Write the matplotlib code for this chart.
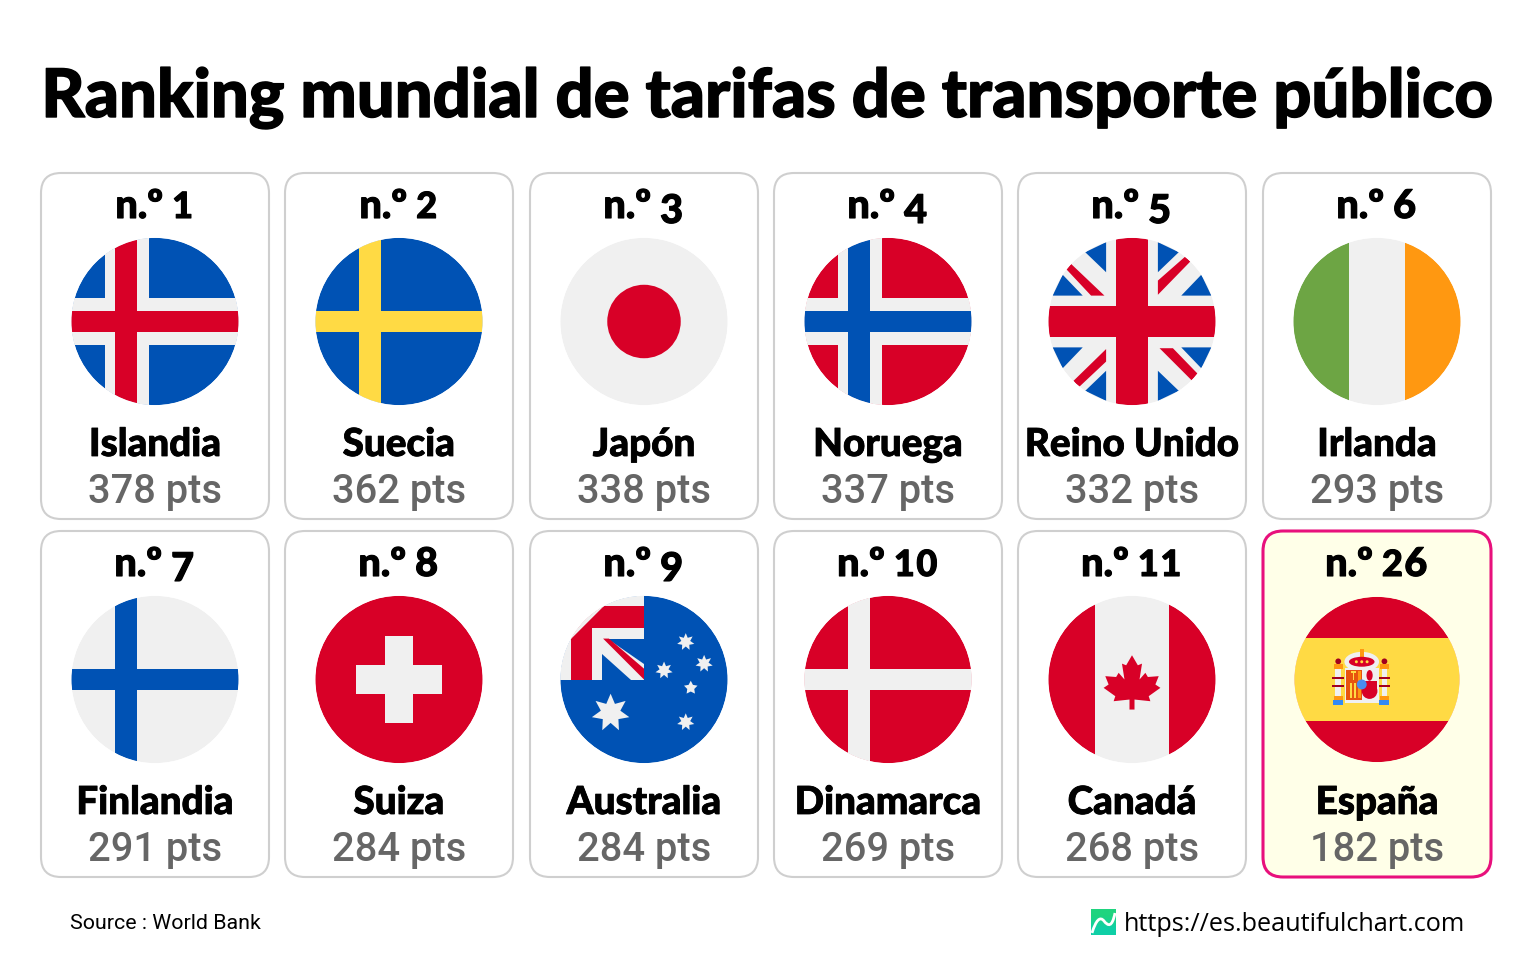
#!/usr/bin/env python3
"""Ranking mundial de tarifas de transporte publico, drawn as a grid of flag cards."""

import matplotlib

matplotlib.use("Agg")

import matplotlib.patheffects as pe
import matplotlib.pyplot as plt
import numpy as np
from matplotlib.colors import LinearSegmentedColormap
from matplotlib.patches import Circle, Ellipse, FancyBboxPatch, PathPatch, Polygon, Rectangle
from matplotlib.path import Path

RANKS = ["1", "2", "3", "4", "5", "6", "7", "8", "9", "10", "11", "26"]
COUNTRIES = ["Islandia", "Suecia", "Japón", "Noruega", "Reino Unido", "Irlanda",
             "Finlandia", "Suiza", "Australia", "Dinamarca", "Canadá", "España"]
POINTS = [378, 362, 338, 337, 332, 293, 291, 284, 284, 269, 268, 182]

TITLE = "Ranking mundial de tarifas de transporte público"
SOURCE = "Source : World Bank"
URL = "https://es.beautifulchart.com"

RED = "#d80027"
BLUE = "#0052b4"
WHITE = "#f0f0f0"
YELLOW = "#ffda44"
ORANGE = "#ff9811"
DARK_RED = "#a2001d"

CARD_LEFT = [41, 285, 530, 774, 1018, 1263]
CARD_TOP = [173, 531]
CARD_W = 228
CARD_H = 346
FLAG_R = 83.5
HEAD_FONT = "Lato"
PTS_FONT = "Roboto"

# the rank numerals in the reference are old-style: some sit low, some are small
LOW_DIGITS = "34579"
SMALL_DIGITS = "012"


class Flag:
    """Draws shapes in circle units (-1..1, y down), clipped to the flag disc."""

    def __init__(self, ax, cx, cy, r, card_color):
        self.ax, self.cx, self.cy, self.r = ax, cx, cy, r
        self.card_color = card_color
        self.disc = Circle((cx, cy), r + 0.3, transform=ax.transData)

    def add(self, patch):
        self.ax.add_patch(patch)
        patch.set_clip_path(self.disc)

    def rect(self, u0, u1, v0, v1, color):
        self.add(Rectangle((self.cx + self.r * u0, self.cy + self.r * v0),
                           self.r * (u1 - u0), self.r * (v1 - v0),
                           fc=color, ec="none"))

    def poly(self, pts, color):
        xy = [(self.cx + self.r * u, self.cy + self.r * v) for u, v in pts]
        self.add(Polygon(xy, closed=True, fc=color, ec="none"))

    def dot(self, u, v, rad, color):
        self.add(Circle((self.cx + self.r * u, self.cy + self.r * v), self.r * rad,
                        fc=color, ec="none"))

    def oval(self, u, v, w, h, color):
        self.add(Ellipse((self.cx + self.r * u, self.cy + self.r * v),
                         self.r * w, self.r * h, fc=color, ec="none"))

    def star(self, u, v, rad, color, points=7):
        ang = np.arange(points * 2) * np.pi / points - np.pi / 2
        radii = np.where(np.arange(points * 2) % 2 == 0, rad, rad * 0.52)
        self.poly(list(zip(u + radii * np.cos(ang), v + radii * np.sin(ang))), color)

    def base(self, color):
        self.rect(-1.1, 1.1, -1.1, 1.1, color)

    def smooth_edge(self):
        # clipping is not antialiased, so cover the rim with a thin ring
        self.ax.add_patch(Circle((self.cx, self.cy), self.r + 1.2, fc="none",
                                 ec=self.card_color, lw=1.6))


def nordic(f, bg, outer, inner):
    f.base(bg)
    if outer:
        f.rect(-0.6, -0.07, -1.1, 1.1, outer)
        f.rect(-1.1, 1.1, -0.28, 0.28, outer)
    f.rect(-0.48, -0.21, -1.1, 1.1, inner)
    f.rect(-1.1, 1.1, -0.13, 0.13, inner)


def draw_uk(f):
    f.base(WHITE)
    for sx in (-1, 1):
        for sy in (-1, 1):
            f.poly([(sx * 0.56, sy * 0.83), (sx * 0.31, sy * 0.95), (sx * 0.31, sy * 0.59)], BLUE)
            f.poly([(sx * 0.95, sy * 0.31), (sx * 0.59, sy * 0.31), (sx * 0.83, sy * 0.56)], BLUE)
    f.poly([(-0.79, -0.63), (-0.73, -0.69), (-0.33, -0.31), (-0.49, -0.31)], RED)
    f.poly([(0.31, -0.32), (0.31, -0.49), (0.64, -0.78), (0.70, -0.72)], RED)
    f.poly([(-0.70, 0.71), (-0.64, 0.79), (-0.31, 0.48), (-0.31, 0.33)], RED)
    f.poly([(0.33, 0.32), (0.49, 0.32), (0.79, 0.63), (0.72, 0.71)], RED)
    f.rect(-0.19, 0.19, -1.1, 1.1, RED)
    f.rect(-1.1, 1.1, -0.19, 0.19, RED)


def draw_australia(f):
    f.base(BLUE)
    f.rect(-1.1, 0, -1.1, 0, WHITE)
    f.rect(-0.87, 0, -0.88, -0.62, RED)
    f.rect(-0.87, -0.62, -0.88, 0, RED)
    f.poly([(-1.1, -0.49), (-0.87, -0.49), (-0.48, -0.88), (-0.48, -1.1), (-1.1, -1.1)], WHITE)
    f.poly([(-0.43, -0.49), (0, -0.49), (0, -0.19)], BLUE)
    f.poly([(-0.5, -0.3), (-0.5, 0), (-0.16, 0)], BLUE)
    f.poly([(-0.49, -0.49), (-0.42, -0.49), (0, -0.13), (0, 0)], RED)
    f.star(-0.4, 0.4, 0.23, WHITE)
    for u, v in [(0.5, -0.45), (0.72, -0.19), (0.24, -0.11), (0.5, 0.51)]:
        f.star(u, v, 0.105, WHITE)
    f.star(0.56, 0.1, 0.085, WHITE, points=5)


def draw_canada(f):
    f.base(WHITE)
    f.rect(-1.1, -0.44, -1.1, 1.1, RED)
    f.rect(0.44, 1.1, -1.1, 1.1, RED)
    right = [(0, -0.29), (0.07, -0.17), (0.12, -0.19), (0.09, 0.0), (0.16, -0.08),
             (0.19, -0.03), (0.32, -0.04), (0.28, 0.06), (0.34, 0.1), (0.2, 0.2),
             (0.22, 0.26), (0.03, 0.24), (0.03, 0.36)]
    left = [(-u, v) for u, v in reversed(right)]
    f.poly(right + left, RED)


def draw_spain(f):
    f.base(RED)
    f.rect(-1.1, 1.1, -0.5, 0.5, YELLOW)
    # pillars
    for u in (-0.47, 0.09):
        f.rect(u - 0.035, u + 0.035, -0.13, 0.2, WHITE)
        f.dot(u, -0.22, 0.035, DARK_RED)
        f.rect(u - 0.055, u + 0.055, -0.19, -0.13, ORANGE)
        f.rect(u - 0.07, u + 0.07, -0.03, -0.005, DARK_RED)
        f.rect(u - 0.07, u + 0.07, 0.07, 0.095, DARK_RED)
        f.rect(u - 0.055, u + 0.055, 0.2, 0.25, ORANGE)
        f.rect(u - 0.06, u + 0.06, 0.25, 0.31, "#338af3")
    # crown with its pale halo
    f.oval(-0.185, -0.215, 0.42, 0.24, WHITE)
    f.rect(-0.21, -0.16, -0.375, -0.27, ORANGE)
    f.oval(-0.185, -0.215, 0.31, 0.12, RED)
    for u in (-0.25, -0.185, -0.12):
        f.dot(u, -0.215, 0.018, YELLOW)
    # shield
    f.rect(-0.39, 0.02, -0.14, 0.28, WHITE)
    f.rect(-0.37, -0.185, -0.12, 0.25, "#e8540f")
    f.rect(-0.23, -0.2, -0.1, 0.22, ORANGE)
    f.rect(-0.33, -0.26, 0.04, 0.22, YELLOW)
    f.rect(-0.3, -0.28, 0.04, 0.22, "#e8540f")
    f.rect(-0.31, -0.26, -0.1, -0.075, YELLOW)
    f.rect(-0.295, -0.275, -0.09, 0.0, YELLOW)
    f.oval(-0.09, -0.05, 0.075, 0.13, RED)
    f.dot(-0.09, 0.14, 0.095, RED)
    f.rect(-0.185, 0.0, 0.02, 0.12, RED)
    f.dot(-0.185, 0.06, 0.06, "#4a8df0")


def draw_flag(f, name):
    if name == "Islandia":
        nordic(f, BLUE, WHITE, RED)
    elif name == "Suecia":
        nordic(f, BLUE, None, YELLOW)
    elif name == "Japón":
        f.base(WHITE)
        f.dot(0, 0, 0.44, RED)
    elif name == "Noruega":
        nordic(f, RED, WHITE, BLUE)
    elif name == "Reino Unido":
        draw_uk(f)
    elif name == "Irlanda":
        f.base(WHITE)
        f.rect(-1.1, -0.34, -1.1, 1.1, "#6da544")
        f.rect(0.34, 1.1, -1.1, 1.1, ORANGE)
    elif name == "Finlandia":
        nordic(f, WHITE, None, BLUE)
    elif name == "Suiza":
        f.base(RED)
        f.rect(-0.52, 0.52, -0.17, 0.17, WHITE)
        f.rect(-0.17, 0.17, -0.52, 0.52, WHITE)
    elif name == "Australia":
        draw_australia(f)
    elif name == "Dinamarca":
        nordic(f, RED, None, WHITE)
    elif name == "Canadá":
        draw_canada(f)
    elif name == "España":
        draw_spain(f)
    f.smooth_edge()


def bold_text(ax, x, y, s, size, stroke, ha="center"):
    return ax.text(x, y, s, ha=ha, va="baseline", fontsize=size, family=HEAD_FONT,
                   fontweight="black", color="black",
                   path_effects=[pe.withStroke(linewidth=stroke, foreground="black")])


def rank_label(ax, renderer, cx, baseline, rank):
    """Write "n.º" and the numerals as separate texts, centred together."""
    parts = [bold_text(ax, 0, baseline, "n.º", 28.5, 0.8, ha="left")]
    widths = [parts[0].get_window_extent(renderer).width + 9]
    for digit in rank:
        if digit in SMALL_DIGITS:
            size, drop = 26, 0
        elif digit in LOW_DIGITS:
            size, drop = 28.5, 5
        else:
            size, drop = 28.5, 0
        part = bold_text(ax, 0, baseline + drop, digit, size, 0.8, ha="left")
        parts.append(part)
        widths.append(part.get_window_extent(renderer).width + 1.5)
    x = cx - sum(widths) / 2
    for part, width in zip(parts, widths):
        part.set_x(x)
        x += width


def main():
    fig = plt.figure(figsize=(15.36, 9.6), dpi=100, facecolor="white")
    ax = fig.add_axes([0, 0, 1, 1])
    ax.set_xlim(0, 1536)
    ax.set_ylim(960, 0)
    ax.axis("off")
    renderer = fig.canvas.get_renderer()

    bold_text(ax, 766, 117, TITLE, 48.2, 1.0)

    for i, (rank, name, pts) in enumerate(zip(RANKS, COUNTRIES, POINTS)):
        left = CARD_LEFT[i % 6]
        top = CARD_TOP[i // 6]
        cx = left + CARD_W / 2
        spain = name == "España"
        card_color = "#ffffe8" if spain else "white"
        ax.add_patch(FancyBboxPatch(
            (left, top), CARD_W, CARD_H,
            boxstyle="round,pad=0,rounding_size=20",
            fc=card_color,
            ec="#e8107c" if spain else "#cfcfcf",
            lw=2.2 if spain else 1.5,
        ))
        rank_label(ax, renderer, cx, top + 45, rank)
        r = 82.5 if spain else FLAG_R
        draw_flag(Flag(ax, cx, top + 148.5, r, card_color), name)
        bold_text(ax, cx, top + 283, name, 27.8, 0.6)
        ax.text(cx, top + 330, f"{pts} pts", ha="center", va="baseline", fontsize=28.7,
                family=PTS_FONT, fontweight="medium", color="#666666")

    ax.text(70, 929, SOURCE, ha="left", va="baseline", fontsize=15.4,
            family=PTS_FONT, color="black")

    logo_cmap = LinearSegmentedColormap.from_list("logo", ["#1fd47f", "#0fcfa6"])
    ax.imshow([[0.0], [1.0]], cmap=logo_cmap, extent=(1091, 1116, 935, 909),
              aspect="auto", interpolation="bilinear")
    ax.set_xlim(0, 1536)
    ax.set_ylim(960, 0)
    wave = Path([(1092, 933), (1096, 920), (1100, 916), (1104, 921),
                 (1108, 926), (1112, 928), (1115, 913)],
                [Path.MOVETO] + [Path.CURVE4] * 6)
    ax.add_patch(PathPatch(wave, fc="none", ec="white", lw=2))
    ax.text(1124, 931, URL, ha="left", va="baseline", fontsize=18.15,
            family="Open Sans", color="black")

    fig.savefig("out.png", dpi=100)
    plt.close(fig)


if __name__ == "__main__":
    main()
